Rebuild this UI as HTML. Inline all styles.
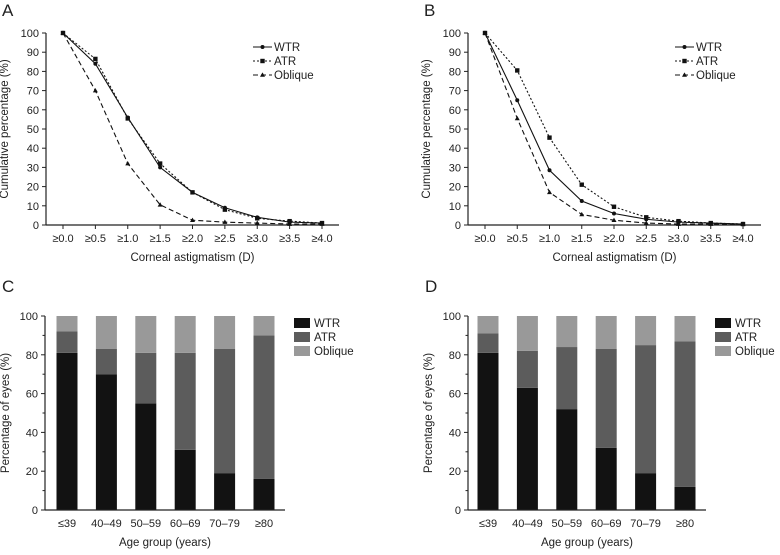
<!DOCTYPE html>
<html><head><meta charset="utf-8"><style>
body{margin:0;background:#fff}
svg text{font-family:"Liberation Sans",sans-serif;fill:#222}
</style></head><body>
<svg id="s" width="780" height="550" xmlns="http://www.w3.org/2000/svg"></svg>
<script>
const xCats=["≥0.0","≥0.5","≥1.0","≥1.5","≥2.0","≥2.5","≥3.0","≥3.5","≥4.0"];
const lineTicks=[0,10,20,30,40,50,60,70,80,90,100];
const aWTR=[100,84,56,30,17,9,4,1.5,1];
const aATR=[100,86.5,55.5,32,17,8,3.5,2,1];
const aOblique=[100,70,32,10.5,2.5,1.5,1,0.5,0.5];
const bWTR=[100,65,28.5,12.5,6,3,1.5,1,0.5];
const bATR=[100,80.5,45.5,21,9.5,4,2,1,0.5];
const bOblique=[100,55.5,17,5.5,2.5,1,0.5,0.5,0.5];
const ageCats=["≤39","40–49","50–59","60–69","70–79","≥80"];
const barTicks=[0,20,40,60,80,100];
const cWTR=[81,70,55,31,19,16];
const cATR=[11,13,26,50,64,74];
const cOblique=[8,17,19,19,17,10];
const dWTR=[81,63,52,32,19,12];
const dATR=[10,19,32,51,66,75];
const dOblique=[9,18,16,17,15,13];

const S=document.getElementById('s');const NS="http://www.w3.org/2000/svg";
function E(t,a,p){const e=document.createElementNS(NS,t);for(const k in a)e.setAttribute(k,a[k]);(p||S).appendChild(e);return e;}
function T(x,y,s,a,p){const e=E('text',Object.assign({x:x,y:y},a),p);e.textContent=s;return e;}

function lineChart(ox,label,x0,x1,axR,series){
  const g=E('g',{});
  
  
  const yT=33,yB=225,axL=ox;
  const X=i=>x0+i*(x1-x0)/(xCats.length-1);
  const Y=v=>yB-(v/100)*(yB-yT);
  const pl=T(ox-44,16,label,{'font-size':17},g);
  
  E('line',{x1:axL,y1:yT,x2:axL,y2:yB,stroke:'#222','stroke-width':1.2},g);
  E('line',{x1:axL,y1:yB,x2:axR,y2:yB,stroke:'#222','stroke-width':1.2},g);
  lineTicks.forEach(v=>{E('line',{x1:axL-4,y1:Y(v),x2:axL,y2:Y(v),stroke:'#222'},g);
    const t=T(axL-7,Y(v)+4,v,{'font-size':11,'text-anchor':'end'},g);});
  xCats.forEach((c,i)=>{E('line',{x1:X(i),y1:yB,x2:X(i),y2:yB+4,stroke:'#222'},g);
    const t=T(X(i),yB+17,c,{'font-size':11,'text-anchor':'middle'},g);});
  const xt=T((axL+axR)/2,yB+36,'Corneal astigmatism (D)',{'font-size':11.5,'text-anchor':'middle'},g);
  
  const yt=T(0,0,'Cumulative percentage (%)',{'font-size':11.5,'text-anchor':'middle',transform:`translate(${ox-38},${(yT+yB)/2}) rotate(-90)`},g);
  
  series.forEach((s,si)=>{
    const p=E('polyline',{points:s.d.map((v,i)=>X(i)+','+Y(v)).join(' '),fill:'none',stroke:'#111','stroke-width':1.1,'stroke-dasharray':s.dash},g);
    
    s.d.forEach((v,i)=>marker(g,s.m,X(i),Y(v)));
    const ly=47+si*14, lx=ox+207;
    E('line',{x1:lx,y1:ly,x2:lx+19,y2:ly,stroke:'#111','stroke-width':1.1,'stroke-dasharray':s.dash},g);
    marker(g,s.m,lx+9.5,ly);
    const lt=T(lx+21,ly+4,s.n,{'font-size':11.5},g);
  });
}
function marker(g,m,x,y){
  if(m==='c')E('circle',{cx:x,cy:y,r:2,fill:'#111'},g);
  else if(m==='s')E('rect',{x:x-2.2,y:y-2.2,width:4.4,height:4.4,fill:'#111'},g);
  else E('polygon',{points:`${x},${y-2.6} ${x-2.5},${y+1.8} ${x+2.5},${y+1.8}`,fill:'#111'},g);
}
lineChart(46,'A',63,322,339,[{n:'WTR',d:aWTR,m:'c',dash:''},{n:'ATR',d:aATR,m:'s',dash:'2,2'},{n:'Oblique',d:aOblique,m:'t',dash:'5,3'}]);
lineChart(468,'B',485,743,761,[{n:'WTR',d:bWTR,m:'c',dash:''},{n:'ATR',d:bATR,m:'s',dash:'2,2'},{n:'Oblique',d:bOblique,m:'t',dash:'5,3'}]);

function barChart(ox,label,c0,axR,w,a,o,legX){
  const g=E('g',{});
  
  
  const yT=316,yB=510,sp=39.4,bw=21;
  const Y=v=>yB-(v/100)*(yB-yT);
  const X=i=>c0+i*sp;
  const pl=T(ox-43,292,label,{'font-size':17},g);
  
  const cols=['#121212','#5c5c5c','#999'],names=['WTR','ATR','Oblique'];
  ageCats.forEach((c,i)=>{
    let base=0;[w,a,o].forEach((arr,k)=>{
      const r=E('rect',{x:X(i)-bw/2,y:Y(base+arr[i]),width:bw,height:Y(base)-Y(base+arr[i]),fill:cols[k]},g);
      
      base+=arr[i];});
    const t=T(X(i),yB+17,c,{'font-size':11,'text-anchor':'middle'},g);
  });
  E('line',{x1:ox,y1:yT,x2:ox,y2:yB,stroke:'#222','stroke-width':1.2},g);
  E('line',{x1:ox,y1:yB,x2:axR,y2:yB,stroke:'#222','stroke-width':1.2},g);
  for(let v=0;v<=100;v+=10){E('line',{x1:ox-(v%20?2.5:4),y1:Y(v),x2:ox,y2:Y(v),stroke:'#222'},g);}
  barTicks.forEach(v=>{const t=T(ox-7,Y(v)+4,v,{'font-size':11,'text-anchor':'end'},g);});
  const xt=T((ox+axR)/2,yB+36,'Age group (years)',{'font-size':11.5,'text-anchor':'middle'},g);
  
  const yt=T(0,0,'Percentage of eyes (%)',{'font-size':11.5,'text-anchor':'middle',transform:`translate(${ox-36},${(yT+yB)/2}) rotate(-90)`},g);
  
  names.forEach((n,k)=>{const ly=323+k*14;
    E('rect',{x:legX,y:ly-5,width:16,height:10,fill:cols[k]},g);
    const lt=T(legX+20,ly+4,n,{'font-size':11.5},g);});
}
barChart(45,'C',67,285,cWTR,cATR,cOblique,294);
barChart(468,'D',488,706,dWTR,dATR,dOblique,715);
</script>
</body></html>
